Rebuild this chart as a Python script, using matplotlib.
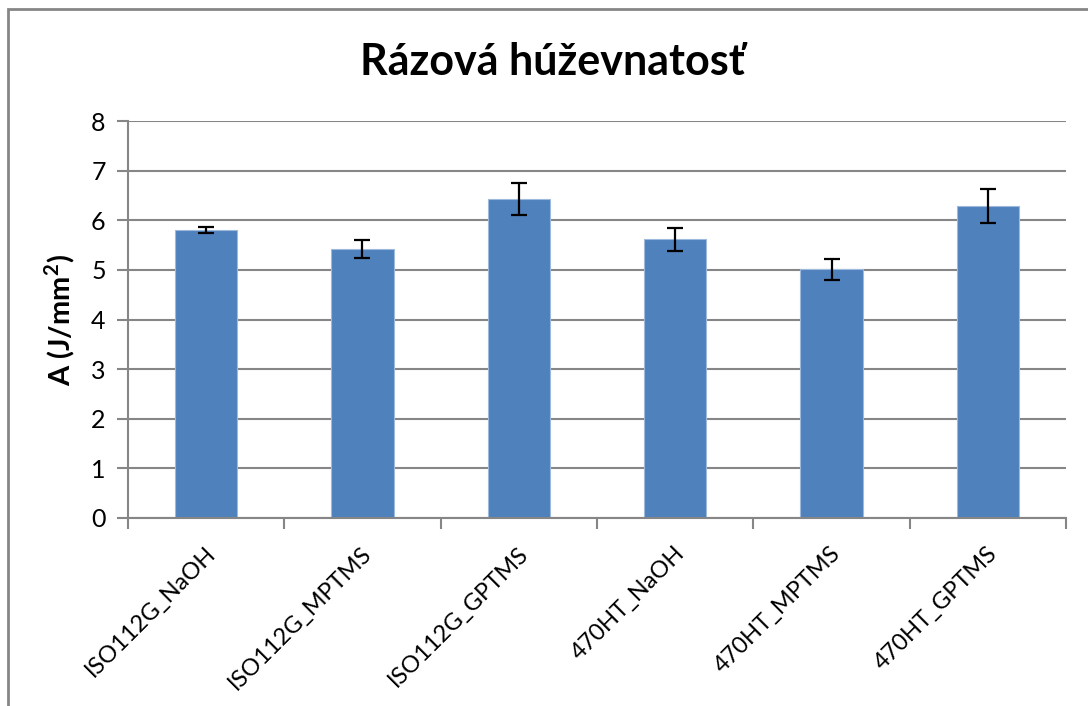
import numpy as np
import matplotlib.pyplot as plt
from matplotlib.patches import Rectangle

plt.rcParams['font.family'] = ['Lato', 'DejaVu Sans']

# Dáta
vzorky = ['ISO112G_NaOH', 'ISO112G_MPTMS', 'ISO112G_GPTMS',
          '470HT_NaOH', '470HT_MPTMS', '470HT_GPTMS']
hodnoty = [5.81, 5.42, 6.43, 5.62, 5.01, 6.29]
chyby = [0.06, 0.19, 0.33, 0.23, 0.21, 0.34]

sivá = '#868686'

fig = plt.figure(figsize=(10.88, 7.06), dpi=100)
ax = fig.add_axes([0.1176, 0.2663, 0.8622, 0.5623])

x = np.arange(len(vzorky))
ax.bar(x, hodnoty, width=0.4, color='#4F81BD', edgecolor='#9DB9DD',
       linewidth=0.8, zorder=2)
ax.errorbar(x, hodnoty, yerr=chyby, fmt='none', ecolor='black',
            elinewidth=1.6, capsize=6, capthick=1.6, zorder=3)

ax.set_xlim(-0.5, len(vzorky) - 0.5)
ax.set_ylim(0, 8)
ax.set_yticks(range(0, 9))
ax.yaxis.grid(True, color=sivá, linewidth=1.5, zorder=0)
ax.set_axisbelow(True)

# tiky na hraniciach kategórií
ax.set_xticks(np.arange(-0.5, len(vzorky)), minor=False)
ax.set_xticklabels([])
ax.tick_params(axis='x', length=8, width=1.5, color=sivá)
ax.tick_params(axis='y', length=8, width=1.5, color=sivá, labelsize=18, pad=8)
for i, n in enumerate(vzorky):
    ax.text(i - 0.01, -0.5, n, rotation=45, ha='right', va='top',
            rotation_mode='anchor', fontsize=17)

for s in ['top', 'right']:
    ax.spines[s].set_visible(False)
for s in ['left', 'bottom']:
    ax.spines[s].set_color(sivá)
    ax.spines[s].set_linewidth(1.5)

ax.set_ylabel('A (J/mm$^\\mathregular{2}$)', fontsize=21, fontweight='bold',
              labelpad=10)
fig.text(0.508, 0.912, 'Rázová húževnatosť', ha='center', va='center',
         fontsize=31, fontweight='bold')

# rámček grafu
fig.patches.append(Rectangle((8 / 1088, -0.1), 1.2, 1.1 - 9 / 706,
                             transform=fig.transFigure, fill=False,
                             edgecolor=sivá, linewidth=2))

plt.savefig('out.png', dpi=100)
